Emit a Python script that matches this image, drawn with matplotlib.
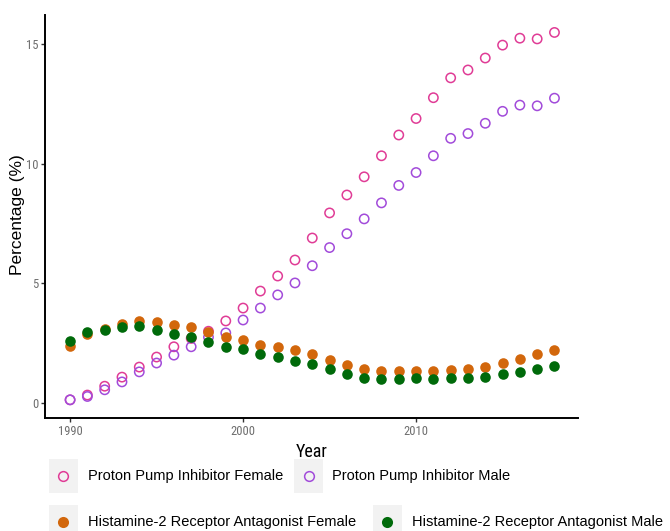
import matplotlib.pyplot as plt
from matplotlib.patches import Rectangle
from matplotlib.lines import Line2D
from matplotlib import font_manager

years = list(range(1990, 2019))

ppi_female = [0.13, 0.33, 0.70, 1.08, 1.50, 1.92, 2.35, 2.70, 3.00, 3.43, 3.97, 4.68, 5.31, 5.98,
              6.90, 7.95, 8.70, 9.46, 10.34, 11.21, 11.90, 12.77, 13.60, 13.93, 14.43, 14.97,
              15.26, 15.23, 15.50]
ppi_male = [0.13, 0.27, 0.55, 0.88, 1.30, 1.67, 2.00, 2.35, 2.75, 2.93, 3.47, 3.97, 4.52, 5.02,
            5.74, 6.50, 7.08, 7.70, 8.37, 9.10, 9.64, 10.34, 11.07, 11.27, 11.70, 12.20,
            12.46, 12.43, 12.75]
h2ra_female = [2.40, 2.88, 3.10, 3.30, 3.43, 3.39, 3.25, 3.18, 2.97, 2.76, 2.64, 2.43, 2.35, 2.22,
               2.06, 1.80, 1.59, 1.42, 1.34, 1.34, 1.34, 1.34, 1.38, 1.42, 1.52, 1.67,
               1.84, 2.05, 2.22]
h2ra_male = [2.60, 2.95, 3.05, 3.18, 3.22, 3.05, 2.88, 2.76, 2.55, 2.33, 2.26, 2.05, 1.92, 1.76,
             1.65, 1.42, 1.21, 1.05, 1.00, 1.00, 1.04, 1.00, 1.04, 1.05, 1.09, 1.21,
             1.30, 1.42, 1.55]

labels = ["Proton Pump Inhibitor Female", "Proton Pump Inhibitor Male",
          "Histamine-2 Receptor Antagonist Female", "Histamine-2 Receptor Antagonist Male"]
colors = ["#E03C96", "#A24BDA", "#D2670C", "#006A0A"]

plt.rcParams['font.family'] = ['Liberation Sans', 'DejaVu Sans']

# look for a narrow face for the ticks and the x title
narrow_file = None
for f in font_manager.fontManager.ttflist:
    nm = (f.name + ' ' + f.fname).lower()
    if ('narrow' in nm or 'condensed' in nm) and 'bold' not in nm and 'oblique' not in nm and 'italic' not in nm:
        narrow_file = f.fname
        if 'liberation' in nm:
            break
if narrow_file:
    def nprop(size):
        return font_manager.FontProperties(fname=narrow_file, size=size)
    tick_size, title_size = 9, 13
else:
    def nprop(size):
        return font_manager.FontProperties(family='Liberation Sans', size=size)
    tick_size, title_size = 8, 11

fig = plt.figure(figsize=(6.7, 5.31), dpi=100)
ax = fig.add_axes([45 / 670, 1 - 418 / 531, 533 / 670, 403 / 531])

ax.scatter(years, ppi_female, s=45, facecolors='none', edgecolors=colors[0], linewidths=1.1)
ax.scatter(years, ppi_male, s=45, facecolors='none', edgecolors=colors[1], linewidths=1.1)
ax.scatter(years, h2ra_female, s=58, color=colors[2], linewidths=0)
ax.scatter(years, h2ra_male, s=58, color=colors[3], linewidths=0)

ax.set_xlim(1988.55, 2019.36)
ax.set_ylim(-0.63, 16.23)
ax.set_xticks([1990, 2000, 2010])
ax.set_yticks([0, 5, 10, 15])
for side in ['top', 'right']:
    ax.spines[side].set_visible(False)
for side in ['left', 'bottom']:
    ax.spines[side].set_linewidth(1.4)
ax.tick_params(length=3, width=1, color='#333333', labelcolor='#6E6E6E', pad=2)
for lab in ax.get_xticklabels() + ax.get_yticklabels():
    lab.set_fontproperties(nprop(tick_size))

fig.text(312 / 670, 1 - 452 / 531, "Year", ha='center', va='center', fontproperties=nprop(title_size))
fig.text(18 / 670, 1 - 215 / 531, "Percentage (%)", rotation=90, ha='center', va='center', fontsize=12.5)

# legend drawn by hand, ggplot style with grey key boxes
rows = [(476, [(49, 63, 88, 0), (294, 309, 332, 1)]),
        (522, [(49, 63, 88, 2), (373, 387, 412, 3)])]
for yc, entries in rows:
    for bx, mx, tx, i in entries:
        fig.add_artist(Rectangle((bx / 670, 1 - (yc + 17) / 531), 29 / 670, 34 / 531,
                                 transform=fig.transFigure, facecolor='#F2F2F2', edgecolor='none'))
        if i < 2:
            m = Line2D([mx / 670], [1 - yc / 531], marker='o', markersize=7, markerfacecolor='none',
                       markeredgecolor=colors[i], markeredgewidth=1.1, linestyle='none',
                       transform=fig.transFigure)
        else:
            m = Line2D([mx / 670], [1 - yc / 531], marker='o', markersize=8, markerfacecolor=colors[i],
                       markeredgewidth=0, linestyle='none', transform=fig.transFigure)
        fig.add_artist(m)
        fig.text(tx / 670, 1 - yc / 531, labels[i], ha='left', va='center', fontsize=10.5)

fig.savefig("out.png", dpi=100)
